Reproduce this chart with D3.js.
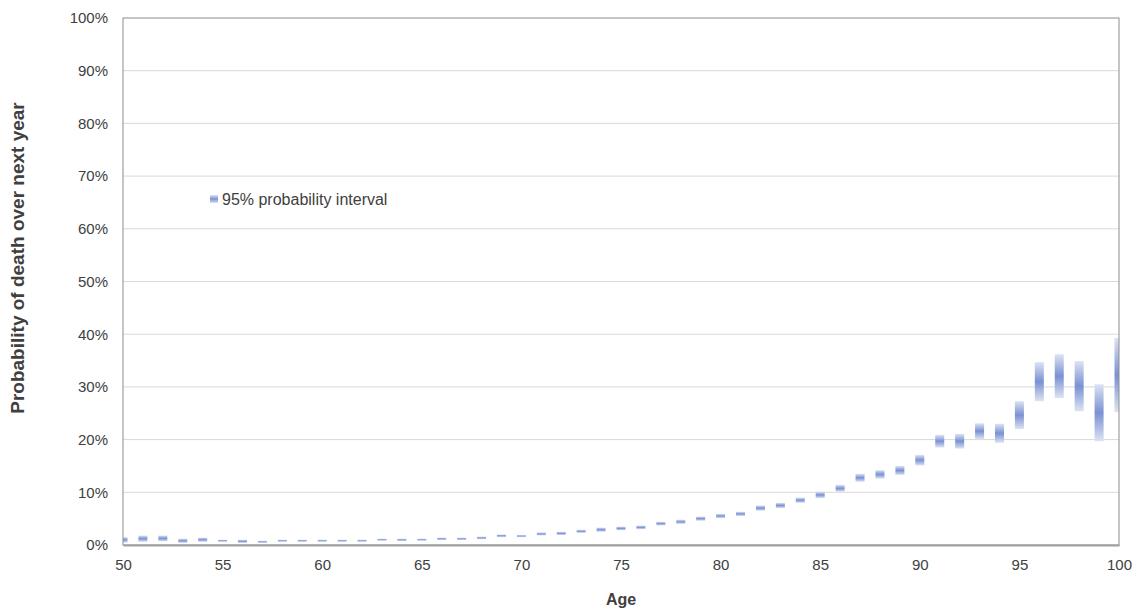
<!DOCTYPE html>
<html>
<head>
<meta charset="utf-8">
<script src="https://cdn.jsdelivr.net/npm/d3@7"></script>
<style>
    body { margin: 0; background: #fff; font-family: "Liberation Sans", Arial, sans-serif; }
    .tick text { fill: #404040; font-size: 15px; }
</style>
</head>
<body>
<div id="chart"></div>
<script>
// ages and 95% interval bounds (probability of death, %)
let ages = d3.range(50, 101);
let lower = [0.45, 0.6, 0.7, 0.4, 0.6, 0.6, 0.4, 0.4, 0.6, 0.6,
    0.6, 0.6, 0.6, 0.8, 0.75, 0.8, 0.95, 0.95, 1.1, 1.5,
    1.5, 1.8, 1.9, 2.3, 2.5, 2.8, 3.0, 3.7, 4.0, 4.6,
    5.1, 5.5, 6.5, 7.0, 8.0, 8.9, 10.1, 12.0, 12.6, 13.3,
    15.1, 18.5, 18.3, 20.1, 19.4, 22.0, 27.3, 27.9, 25.4, 19.7,
    25.2];
let upper = [1.5, 1.8, 1.8, 1.2, 1.4, 1.0, 1.0, 0.8, 1.0, 1.0,
    1.0, 1.0, 1.0, 1.2, 1.2, 1.2, 1.4, 1.4, 1.6, 2.0,
    1.9, 2.4, 2.5, 2.9, 3.3, 3.5, 3.7, 4.4, 4.8, 5.4,
    5.9, 6.3, 7.5, 8.0, 9.0, 10.1, 11.4, 13.5, 14.2, 15.0,
    17.1, 20.9, 21.1, 23.1, 23.0, 27.3, 34.7, 36.2, 34.9, 30.5,
    39.3];
let xTicks = [50, 55, 60, 65, 70, 75, 80, 85, 90, 95, 100];
let yTicks = d3.range(0, 101, 10);

let data = ages.map((a, i) => ({age: a, lo: lower[i], hi: upper[i]}));

let width = 1139, height = 611;
let plot = {left: 123, right: 1119, top: 18, bottom: 545};

let svg = d3.select("#chart").append("svg")
    .attr("width", width)
    .attr("height", height);

let defs = svg.append("defs");

let grad = defs.append("linearGradient")
    .attr("id", "band")
    .attr("x1", 0).attr("y1", 0).attr("x2", 0).attr("y2", 1);
grad.append("stop").attr("offset", "0%").attr("stop-color", "#dce3f3");
grad.append("stop").attr("offset", "50%").attr("stop-color", "#7a91d3");
grad.append("stop").attr("offset", "100%").attr("stop-color", "#dce3f3");

defs.append("clipPath").attr("id", "clip")
    .append("rect")
    .attr("x", plot.left)
    .attr("y", plot.top)
    .attr("width", plot.right - plot.left)
    .attr("height", plot.bottom - plot.top);

// scales
let x = d3.scaleLinear().domain([50, 100]).range([plot.left, plot.right]);
let y = d3.scaleLinear().domain([0, 100]).range([plot.bottom, plot.top]);

// gridlines
svg.append("g")
    .selectAll("line")
    .data(yTicks.filter(d => d > 0 && d < 100))
    .enter().append("line")
    .attr("x1", plot.left).attr("x2", plot.right)
    .attr("y1", d => y(d)).attr("y2", d => y(d))
    .attr("stroke", "#d9d9d9")
    .attr("stroke-width", 1);

// bars
let barW = 9;
svg.append("g")
    .attr("clip-path", "url(#clip)")
    .selectAll("rect")
    .data(data)
    .enter().append("rect")
    .attr("x", d => x(d.age) - barW / 2)
    .attr("width", barW)
    .attr("y", d => y(d.hi))
    .attr("height", d => y(d.lo) - y(d.hi))
    .attr("fill", "url(#band)");

// plot frame
svg.append("rect")
    .attr("x", plot.left)
    .attr("y", plot.top)
    .attr("width", plot.right - plot.left)
    .attr("height", plot.bottom - plot.top)
    .attr("fill", "none")
    .attr("stroke", "#8c8c8c")
    .attr("stroke-width", 1);

// axes
let xAxis = d3.axisBottom(x).tickValues(xTicks).tickSize(0).tickPadding(14);
let yAxis = d3.axisLeft(y).tickValues(yTicks).tickSize(0).tickPadding(15)
    .tickFormat(d => d + "%");

svg.append("g")
    .attr("class", "x-axis axis")
    .attr("transform", "translate(0," + plot.bottom + ")")
    .call(xAxis)
    .call(g => g.select(".domain").attr("stroke", "#a0a0a0").attr("stroke-width", 2));

svg.append("g")
    .attr("class", "y-axis axis")
    .attr("transform", "translate(" + plot.left + ",0)")
    .call(yAxis)
    .call(g => g.select(".domain").remove());

svg.selectAll(".tick text").style("font-family", "'Liberation Sans', Arial, sans-serif");

// axis titles
svg.append("text")
    .text("Age")
    .attr("x", (plot.left + plot.right) / 2)
    .attr("y", 605)
    .attr("text-anchor", "middle")
    .style("font-size", "16px")
    .style("font-weight", "bold")
    .style("fill", "#404040");

svg.append("text")
    .text("Probability of death over next year")
    .attr("transform", `translate(24, 258) rotate(-90)`)
    .attr("text-anchor", "middle")
    .style("font-size", "19px")
    .style("font-weight", "bold")
    .style("fill", "#404040");

// legend
svg.append("rect")
    .attr("x", 210).attr("y", 195)
    .attr("width", 8).attr("height", 8)
    .attr("fill", "url(#band)");
svg.append("text")
    .text("95% probability interval")
    .attr("x", 222).attr("y", 205)
    .style("font-size", "16px")
    .style("fill", "#404040");
</script>
</body>
</html>
